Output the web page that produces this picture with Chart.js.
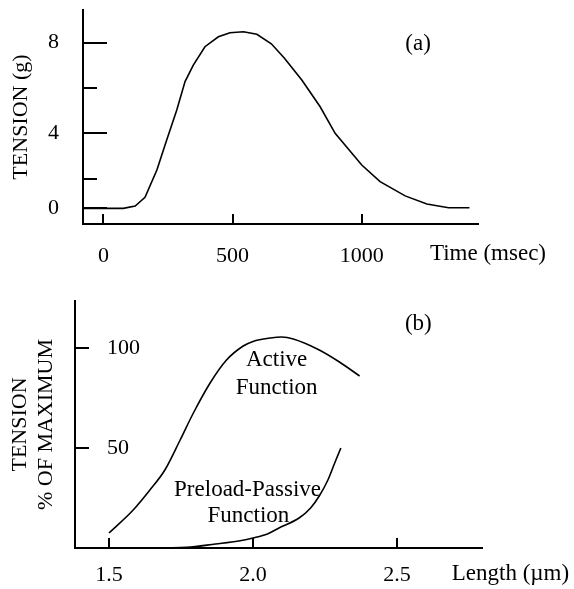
<!DOCTYPE html>
<html>
<head>
<meta charset="utf-8">
<script src="https://cdn.jsdelivr.net/npm/chart.js@4.4.1/dist/chart.umd.min.js"></script>
<style>
body{margin:0;background:#fff}
#wrap{position:relative;width:574px;height:589px}
#chartA{position:absolute;left:0;top:0}
#chartB{position:absolute;left:0;top:280px}
</style>
</head>
<body>
<div id="wrap">
<canvas id="chartA" width="574" height="280"></canvas>
<canvas id="chartB" width="574" height="309"></canvas>
</div>
<script>
// (a) twitch tension vs time
const timeMs=[-79,77,123,161,207,245,284,316,348,393,445,490,542,594,650,700,768,839,897,1000,1071,1168,1252,1336,1417]
const tensionG=[0.69,0.69,0.79,1.18,2.38,3.7,5.03,6.28,7.01,7.82,8.26,8.44,8.48,8.37,7.95,7.32,6.35,5.17,4.0,2.6,1.87,1.24,0.88,0.72,0.72]
const xTickValsA=[0,500,1000]
const xTickTextA=['0','500','1000']
const yTickValsA=[0.7,2,4,6,8]
const yTickTextA=['0','','4','','8']

// (b) length-tension
const lengthActive=[1.5,1.584,1.642,1.694,1.747,1.793,1.851,1.908,1.966,2.0,2.06,2.1,2.14,2.23,2.3,2.37]
const activePct=[7.5,19,29,39,54,67.5,82.5,94,101,103.3,105,105.5,104.5,99,93,86]
const lengthPassive=[1.5,1.65,1.77,1.87,1.95,2.0,2.05,2.09,2.16,2.2,2.23,2.26,2.285,2.305]
const passivePct=[0,0,0.3,2,3.5,5,7,10,15,20,26,34,43,50]
const xTickValsB=[1.5,2.0,2.5]
const xTickTextB=['1.5','2.0','2.5']
const yTickValsB=[50,100]
const yTickTextB=['50','100']

Chart.defaults.font.family="'Liberation Serif','Times New Roman',serif"
Chart.defaults.font.size=22
Chart.defaults.color='#000'

// short tick marks drawn inward from the axes
const tickMarksPlugin={id:'tickMarks',afterDraw(chart,args,opts){
 const ctx=chart.ctx,a=chart.chartArea,xs=chart.scales.x,ys=chart.scales.y
 ctx.save();ctx.strokeStyle='#000';ctx.lineWidth=2;ctx.beginPath()
 opts.y.forEach((v,i)=>{const p=Math.round(ys.getPixelForValue(v));ctx.moveTo(a.left,p);ctx.lineTo(a.left+opts.yLen[i],p)})
 opts.x.forEach(v=>{const p=Math.round(xs.getPixelForValue(v));ctx.moveTo(p,a.bottom);ctx.lineTo(p,a.bottom-opts.xLen)})
 ctx.stroke();ctx.restore()
}}

// free text placed in data coordinates
const notesPlugin={id:'notes',afterDraw(chart,args,opts){
 const ctx=chart.ctx,xs=chart.scales.x,ys=chart.scales.y
 ctx.save();ctx.fillStyle='#000';ctx.font=opts.font;ctx.textBaseline='middle'
 opts.items.forEach(n=>{ctx.textAlign=n.align||'center';ctx.fillText(n.text,xs.getPixelForValue(n.x),ys.getPixelForValue(n.y))})
 ctx.restore()
}}

// fixed axis box sizes, no extra label overhang padding
function fixSize(w,h){return s=>{
 if(w!=null)s.width=w
 if(h!=null)s.height=h
 s.paddingTop=0;s.paddingBottom=0;s.paddingLeft=0;s.paddingRight=0
}}

const axisLine={display:true,color:'#000',width:2}
const noteFont="23px 'Liberation Serif','Times New Roman',serif"

let chartA=new Chart(document.getElementById('chartA'),{
 type:'line',
 data:{datasets:[{data:timeMs.map((t,i)=>({x:t,y:tensionG[i]})),borderColor:'#000',borderWidth:1.6,pointRadius:0,tension:0,fill:false}]},
 options:{
  responsive:false,animation:false,
  layout:{padding:{top:10,right:96,left:0,bottom:0}},
  plugins:{legend:{display:false},tooltip:{enabled:false},
   tickMarks:{y:yTickValsA,yLen:[24,14,24,14,24],x:xTickValsA,xLen:10},
   notes:{font:noteFont,items:[{text:'(a)',x:1218,y:7.95},{text:'Time (msec)',x:1264,y:-1.32,align:'left'}]}},
  scales:{
   x:{type:'linear',min:-79,max:1450,
    afterBuildTicks:s=>{s.ticks=xTickValsA.map(v=>({value:v}))},
    afterFit:fixSize(null,56),
    grid:{display:false},border:axisLine,
    ticks:{autoSkip:false,maxRotation:0,padding:11,callback:(v,i)=>xTickTextA[i]}},
   y:{type:'linear',min:0,max:9.44,
    afterBuildTicks:s=>{s.ticks=yTickValsA.map(v=>({value:v}))},
    afterFit:fixSize(83,null),
    grid:{display:false},border:axisLine,
    ticks:{autoSkip:false,padding:16,callback:(v,i)=>yTickTextA[i]},
    title:{display:true,text:'TENSION (g)',padding:{top:8},font:{size:22}}}
  }
 },
 plugins:[tickMarksPlugin,notesPlugin]
})

let chartB=new Chart(document.getElementById('chartB'),{
 type:'line',
 data:{datasets:[
  {data:lengthActive.map((l,i)=>({x:l,y:activePct[i]})),borderColor:'#000',borderWidth:1.6,pointRadius:0,cubicInterpolationMode:'monotone',fill:false},
  {data:lengthPassive.map((l,i)=>({x:l,y:passivePct[i]})),borderColor:'#000',borderWidth:1.6,pointRadius:0,cubicInterpolationMode:'monotone',fill:false}
 ]},
 options:{
  responsive:false,animation:false,
  layout:{padding:{top:21,right:92,left:0,bottom:0}},
  plugins:{legend:{display:false},tooltip:{enabled:false},
   tickMarks:{y:yTickValsB,yLen:[14,14],x:xTickValsB,xLen:10},
   notes:{font:noteFont,items:[
    {text:'(b)',x:2.574,y:112.2},
    {text:'Active',x:2.082,y:94.2},
    {text:'Function',x:2.082,y:80.2},
    {text:'Preload-Passive',x:1.981,y:29.2},
    {text:'Function',x:1.984,y:15.9},
    {text:'Length (\u00b5m)',x:2.69,y:-13.2,align:'left'}]}},
  scales:{
   x:{type:'linear',min:1.382,max:2.795,
    afterBuildTicks:s=>{s.ticks=xTickValsB.map(v=>({value:v}))},
    afterFit:fixSize(null,41),
    grid:{display:false},border:axisLine,
    ticks:{autoSkip:false,maxRotation:0,padding:6,callback:(v,i)=>xTickTextB[i]}},
   y:{type:'linear',min:0,max:123.5,
    afterBuildTicks:s=>{s.ticks=yTickValsB.map(v=>({value:v}))},
    afterFit:fixSize(75,null),
    grid:{display:false},border:axisLine,
    ticks:{autoSkip:false,mirror:true,padding:32,callback:(v,i)=>yTickTextB[i]},
    title:{display:true,text:['TENSION','% OF MAXIMUM'],padding:{top:8},font:{size:22,lineHeight:1.15}}}
  }
 },
 plugins:[tickMarksPlugin,notesPlugin]
})
</script>
</body>
</html>
